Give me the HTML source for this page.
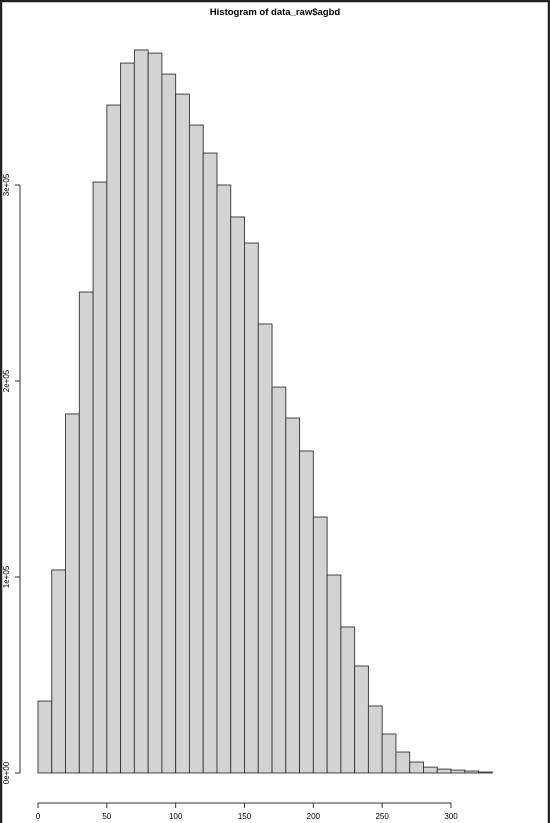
<!DOCTYPE html>
<html><head><meta charset="utf-8"><style>
html,body{margin:0;padding:0;background:#fff}
svg{display:block}
text{font-family:"Liberation Sans",sans-serif;fill:#000}
</style></head><body>
<svg width="550" height="823">
<rect x="1" y="1" width="548" height="840" fill="#fff" stroke="#222" stroke-width="2.5"/>
<text x="275" y="15" text-anchor="middle" font-size="9.5" font-weight="bold">Histogram of data_raw$agbd</text>
<g id="bars"></g>
<g id="yaxis"></g>
<g id="xaxis"></g>
</svg>
<script>
const binStarts = [0,10,20,30,40,50,60,70,80,90,100,110,120,130,140,150,160,170,180,190,200,210,220,230,240,250,260,270,280,290,300,310,320];
const counts = [36700,103600,183200,245400,301500,340800,362200,368900,367300,356600,346400,330600,316300,300000,283700,270400,229100,196900,181100,164300,130600,101000,74500,54600,34200,19900,10700,5600,3000,2000,1500,1000,500];
const binWidth = 10;
const xTicks = [0,50,100,150,200,250,300];
const yTicks = [0,100000,200000,300000];
const yTickLabels = ["0e+00","1e+05","2e+05","3e+05"];

const NS = "http://www.w3.org/2000/svg";
const xs = v => 38 + v * 1.3767;
const ys = v => 773 - v * 0.00196;
function mk(tag, attrs, parent){const e=document.createElementNS(NS,tag);for(const k in attrs)e.setAttribute(k,attrs[k]);parent.appendChild(e);return e;}

const bars = document.getElementById('bars');
binStarts.forEach((b,i)=>{
  const x0=xs(b), x1=xs(b+binWidth), y=ys(counts[i]);
  const r=mk('rect',{x:x0,y:y,width:x1-x0,height:ys(0)-y,fill:'#d3d3d3',stroke:'#333','stroke-width':0.9},bars);
  
  
});

const ya = document.getElementById('yaxis');
mk('line',{x1:20,x2:20,y1:ys(yTicks[0]),y2:ys(yTicks[yTicks.length-1]),stroke:'#333','stroke-width':1},ya);
yTicks.forEach((t,i)=>{
  mk('line',{x1:15,x2:20,y1:ys(t),y2:ys(t),stroke:'#333','stroke-width':1},ya);
  const tx=mk('text',{x:9,y:ys(t),'font-size':8,'text-anchor':'middle',transform:`rotate(-90 9 ${ys(t)})`},ya);
  tx.textContent=yTickLabels[i];
  
  
});

const xa = document.getElementById('xaxis');
mk('line',{x1:xs(xTicks[0]),x2:xs(xTicks[xTicks.length-1]),y1:803,y2:803,stroke:'#333','stroke-width':1},xa);
xTicks.forEach(t=>{
  mk('line',{x1:xs(t),x2:xs(t),y1:803,y2:808,stroke:'#333','stroke-width':1},xa);
  const tx=mk('text',{x:xs(t),y:819,'font-size':8,'text-anchor':'middle'},xa);
  tx.textContent=t;
  
  
});
</script>
</body></html>
